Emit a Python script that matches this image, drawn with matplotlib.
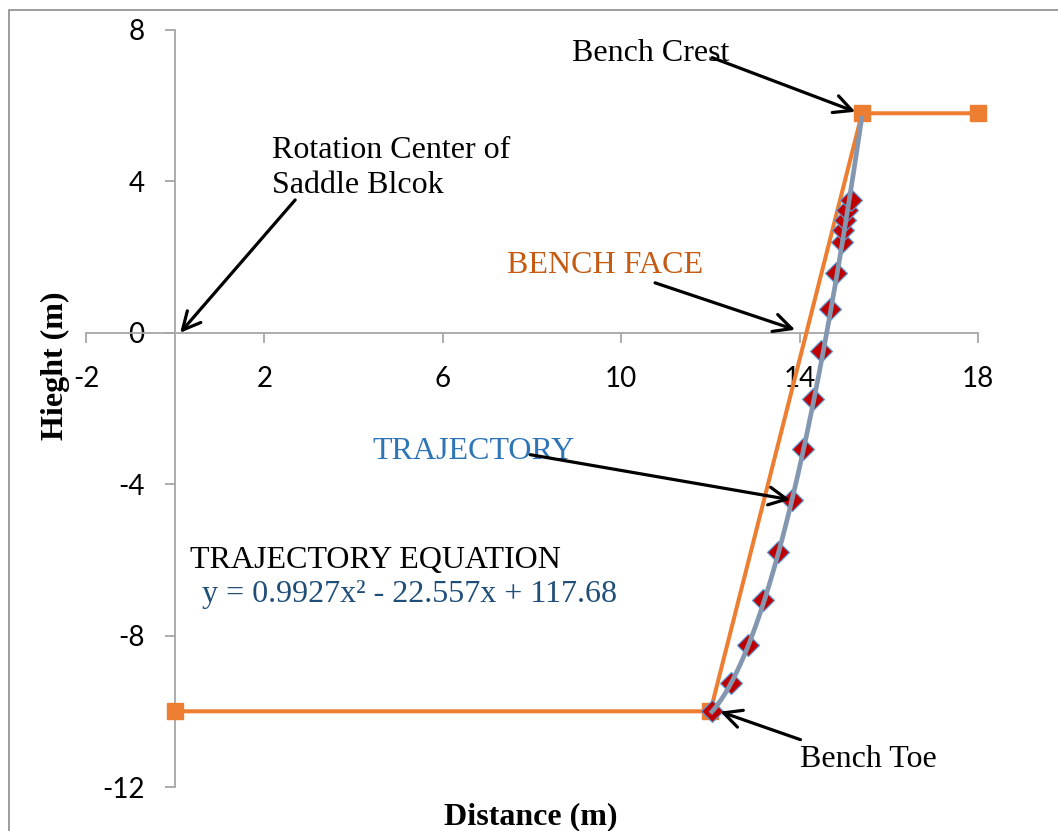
import matplotlib
matplotlib.use("Agg")
import matplotlib.pyplot as plt
import numpy as np
from matplotlib.patches import Rectangle

# Bench profile (toe floor, face, crest)
bench_x = [0, 12, 15.4, 18]
bench_y = [-10, -10, 5.8, 5.8]

# Measured trajectory points
traj_x = [12.03, 12.46, 12.85, 13.18, 13.51, 13.83, 14.07, 14.31,
          14.48, 14.69, 14.81, 14.95, 14.98, 15.02, 15.06, 15.16]
traj_y = [-9.98, -9.24, -8.24, -7.07, -5.78, -4.43, -3.06, -1.74,
          -0.49, 0.63, 1.59, 2.41, 2.72, 2.99, 3.25, 3.51]

# Polynomial trend coefficients (y = a x^2 + b x + c) and its x extent
trend_coef = [0.9927, -22.557, 117.68]
trend_span = [12.0, 15.4]

x_ticks = [-2, 2, 6, 10, 14, 18]
y_ticks = [8, 4, 0, -4, -8, -12]

W, H = 1058, 831
fig = plt.figure(figsize=(W / 100, H / 100), dpi=100)
ax = fig.add_axes([86 / W, 1 - 787 / H, (978 - 86) / W, (787 - 30) / H])

tick_font = "Lato"
serif = "Liberation Serif"
axis_grey = "#a6a6a6"
fs = 23

ax.set_xlim(-2, 18)
ax.set_ylim(-12, 8)
for s in ("top", "right"):
    ax.spines[s].set_visible(False)
ax.spines["left"].set_position(("data", 0))
ax.spines["bottom"].set_position(("data", 0))
for s in ("left", "bottom"):
    ax.spines[s].set_color(axis_grey)
    ax.spines[s].set_linewidth(1.3)

ax.set_xticks(x_ticks)
ax.set_yticks(y_ticks)
ax.set_xticklabels([str(v) for v in x_ticks], fontfamily=tick_font, fontsize=20)
ax.set_yticklabels([str(v) for v in y_ticks], fontfamily=tick_font, fontsize=20)
ax.tick_params(axis="x", direction="out", length=7, width=1.3, color=axis_grey, pad=17)
ax.tick_params(axis="y", direction="out", length=7, width=1.3, color=axis_grey, pad=15)

# Bench outline
ax.plot(bench_x, bench_y, color="#ed7d31", lw=2.9, marker="s", markersize=11,
        markerfacecolor="#ed7d31", markeredgecolor="#ed7d31", zorder=3,
        clip_on=False)

# Trajectory points and fitted trend
ax.plot(traj_x, traj_y, ls="none", marker="D", markersize=11.5,
        markerfacecolor="#c00000", markeredgecolor="#5b9bd5",
        markeredgewidth=0.9, zorder=4)
tx = np.linspace(trend_span[0], trend_span[1], 200)
ax.plot(tx, np.polyval(trend_coef, tx), color="#8497b0", lw=3.4,
        solid_capstyle="butt", zorder=5)

arrow = dict(arrowstyle="->", color="black", lw=2.3, mutation_scale=32,
             shrinkA=0, shrinkB=0)

ax.annotate("", xy=(15.25, 5.84), xytext=(12.04, 7.27), arrowprops=arrow, zorder=6)
ax.text(8.9, 7.38, "Bench Crest", fontfamily=serif, fontsize=fs, va="center", ha="left")

ax.annotate("", xy=(0.11, 0.0), xytext=(2.69, 3.51), arrowprops=arrow, zorder=6)
ax.text(2.17, 4.36, "Rotation Center of\nSaddle Blcok", fontfamily=serif,
        fontsize=fs, va="center", ha="left", linespacing=1.25)

ax.annotate("", xy=(13.9, 0.08), xytext=(10.76, 1.32), arrowprops=arrow, zorder=6)
ax.text(7.45, 1.78, "BENCH FACE", fontfamily=serif, fontsize=fs,
        color="#c55a11", va="center", ha="left")

ax.annotate("", xy=(13.79, -4.41), xytext=(7.96, -3.22), arrowprops=arrow, zorder=6)
ax.text(4.42, -3.14, "TRAJECTORY", fontfamily=serif, fontsize=fs,
        color="#2e75b6", va="center", ha="left")

ax.text(0.34, -6.02, "TRAJECTORY EQUATION", fontfamily=serif, fontsize=fs,
        va="center", ha="left")
ax.text(0.61, -6.92, "y = 0.9927x\u00b2 - 22.557x + 117.68", fontfamily=serif,
        fontsize=fs, color="#1f4e79", va="center", ha="left")

ax.annotate("", xy=(12.22, -10.01), xytext=(14.02, -10.75), arrowprops=arrow, zorder=6)
ax.text(14.0, -11.27, "Bench Toe", fontfamily=serif, fontsize=fs, va="center", ha="left")

# Axis titles
fig.text(531 / W, 1 - 817 / H, "Distance (m)", fontfamily=serif, fontsize=fs,
         fontweight="bold", ha="center", va="center")
fig.text(55 / W, 1 - 366 / H, "Hieght (m)", fontfamily=serif, fontsize=fs,
         fontweight="bold", ha="center", va="center", rotation=90)

# Chart area border
fig.patches.append(Rectangle((9 / W, -0.1), 1.2, 1.1 - 10 / H, transform=fig.transFigure,
                             fill=False, edgecolor="#8c8c8c", lw=1.2))

fig.savefig("out.png", dpi=100)
